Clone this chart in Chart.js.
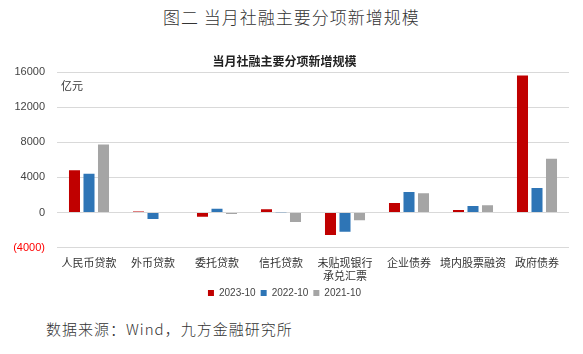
<!DOCTYPE html>
<html lang="zh">
<head>
<meta charset="UTF-8">
<title>当月社融主要分项新增规模</title>
<script src="https://cdn.jsdelivr.net/npm/chart.js"></script>
<style>
  body { margin: 0; width: 583px; height: 354px; background: #fff; position: relative; overflow: hidden; font-family: 'Noto Sans CJK SC', sans-serif; }
  .page-title { position: absolute; top: 4px; left: 0; width: 583px; text-align: center; font-size: 17px; color: #333; letter-spacing: 1px; font-weight: 300; }
  .unit { position: absolute; top: 77px; left: 61px; font-size: 11px; color: #333; }
  .source { position: absolute; top: 318px; left: 46px; font-size: 15px; color: #333; font-weight: 300; letter-spacing: 1px; }
  .wrap { position: absolute; top: 52px; left: 0; width: 583px; height: 256px; }
</style>
</head>
<body>
<div class="page-title">图二 当月社融主要分项新增规模</div>
<div class="wrap"><canvas id="c"></canvas></div>
<div class="unit">亿元</div>
<div class="source">数据来源：Wind，九方金融研究所</div>
<script>
const categories = ['人民币贷款', '外币贷款', '委托贷款', '信托贷款', ['未贴现银行', '承兑汇票'], '企业债券', '境内股票融资', '政府债券'];
const s2023 = [4837, 120, -500, 380, -2580, 1075, 290, 15638];
const s2022 = [4431, -740, 415, -40, -2190, 2340, 730, 2800];
const s2021 = [7752, 0, -160, -1100, -890, 2190, 840, 6150];
const yTicks = [-4000, 0, 4000, 8000, 12000, 16000];

const font = { family: "'Liberation Sans', 'Noto Sans CJK SC', sans-serif", size: 11 };

new Chart('c', {
  type: 'bar',
  data: {
    labels: categories,
    datasets: [
      { label: '2023-10', data: s2023, backgroundColor: '#C00000' },
      { label: '2022-10', data: s2022, backgroundColor: '#2E75B6' },
      { label: '2021-10', data: s2021, backgroundColor: '#A5A5A5' }
    ]
  },
  options: {
    responsive: true,
    maintainAspectRatio: false,
    animation: false,
    layout: { padding: { left: 0, right: 14, top: 0, bottom: 0 } },
    datasets: { bar: { categoryPercentage: 0.68, barPercentage: 0.76, borderWidth: 0 } },
    plugins: {
      title: { display: true, text: '当月社融主要分项新增规模', color: '#222', font: { family: "'Noto Sans CJK SC', sans-serif", size: 12, weight: 'bold' }, padding: { top: 2, bottom: 4 } },
      legend: {
        position: 'bottom',
        labels: { boxWidth: 6, boxHeight: 6, padding: 5, color: '#444', font: { family: font.family, size: 10 } }
      },
      tooltip: { enabled: false }
    },
    scales: {
      x: {
        grid: { display: false },
        border: { display: false },
        ticks: { color: '#333', font: { family: "'Noto Sans CJK SC', sans-serif", size: 11, lineHeight: 1.25 }, maxRotation: 0, autoSkip: false, padding: 0 }
      },
      y: {
        min: -4000,
        max: 16000,
        afterBuildTicks: s => { s.ticks = yTicks.map(v => ({ value: v })); },
        afterFit: s => { s.width = 57; },
        grid: { color: '#d9d9d9', drawTicks: false },
        border: { display: false },
        ticks: {
          padding: 12,
          font: font,
          color: c => c.tick && c.tick.value < 0 ? '#ff0000' : '#444',
          callback: v => v < 0 ? '(' + Math.abs(v) + ')' : String(v)
        }
      }
    }
  }
});
</script>
</body>
</html>
